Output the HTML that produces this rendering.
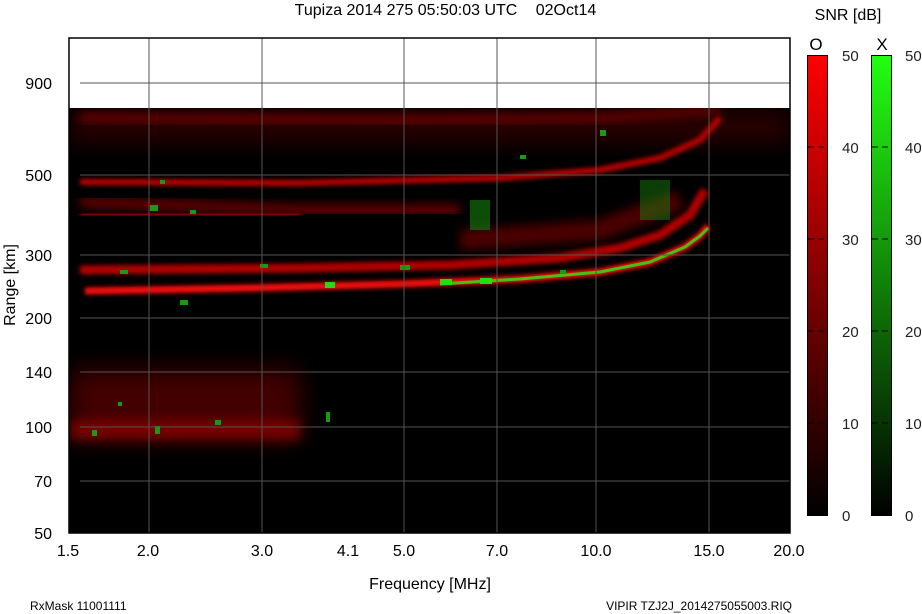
<!DOCTYPE html>
<html><head><meta charset="utf-8"><style>
body{margin:0;background:#fff;width:922px;height:614px;overflow:hidden;font-family:"Liberation Sans",sans-serif}
svg{position:absolute;left:0;top:0}
</style></head><body>
<svg width="922" height="614" viewBox="0 0 922 614" font-family="Liberation Sans, sans-serif">
<defs>
<filter id="b2" x="-10%" y="-50%" width="120%" height="200%"><feGaussianBlur stdDeviation="2"/></filter>
<filter id="b5" x="-10%" y="-50%" width="120%" height="200%"><feGaussianBlur stdDeviation="5"/></filter>
<filter id="b12" x="-20%" y="-50%" width="140%" height="200%"><feGaussianBlur stdDeviation="12"/></filter>
<linearGradient id="gO" x1="0" y1="0" x2="0" y2="1"><stop offset="0" stop-color="#ff0000"/><stop offset="1" stop-color="#000"/></linearGradient>
<linearGradient id="gX" x1="0" y1="0" x2="0" y2="1"><stop offset="0" stop-color="#22ff11"/><stop offset="1" stop-color="#000"/></linearGradient>
<clipPath id="cp"><rect x="69" y="108" width="721" height="425"/></clipPath>
</defs>
<text x="406" y="15" font-size="16" text-anchor="middle">Tupiza 2014 275 05:50:03 UTC</text>
<text x="566" y="15" font-size="16" text-anchor="middle">02Oct14</text>
<rect x="69" y="108" width="721" height="425" fill="#000"/>
<g clip-path="url(#cp)">
<rect x="70" y="370" width="230" height="70" fill="#7a0000" opacity="0.55" filter="url(#b12)"/>
<rect x="70" y="112" width="720" height="30" fill="#5a0000" opacity="0.5" filter="url(#b12)"/>
<path d="M80 118 L400 120 L600 118 L720 110" stroke="#8a0000" stroke-width="6" fill="none" filter="url(#b5)"/>
<path d="M80 202 L300 210 L460 210" stroke="#8a0000" stroke-width="10" fill="none" filter="url(#b5)" opacity="0.8"/>
<path d="M80 182 L300 183 L500 178 L600 170 L660 158 L700 140 L720 118" stroke="#c00000" stroke-width="6" fill="none" filter="url(#b2)"/>
<path d="M80 215 L300 214" stroke="#a00000" stroke-width="6" fill="none" filter="url(#b2)"/>
<path d="M80 270 L300 268 L450 265 L560 258 L620 248 L660 235 L690 215 L705 190" stroke="#b00000" stroke-width="9" fill="none" filter="url(#b2)"/>
<path d="M460 240 L600 230 L680 200" stroke="#800000" stroke-width="20" fill="none" filter="url(#b5)" opacity="0.6"/>
<path d="M85 291 L250 288 L400 284 L520 279 L600 272 L650 262 L685 247 L700 236 L708 226" stroke="#ff0a0a" stroke-width="7" fill="none" filter="url(#b2)"/>
<path d="M440 284 L520 279 L600 272 L650 262 L685 247 L700 236 L708 228" stroke="#22ee11" stroke-width="3" fill="none" opacity="0.8"/>
<rect x="325" y="282" width="10" height="6" fill="#22dd11"/>
<rect x="440" y="279" width="12" height="6" fill="#22dd11"/>
<rect x="480" y="278" width="12" height="6" fill="#22dd11"/>
<rect x="70" y="420" width="230" height="20" fill="#a00000" opacity="0.6" filter="url(#b5)"/>
<g fill="#1a9a10">
<rect x="150" y="205" width="8" height="6"/><rect x="118" y="402" width="4" height="4"/><rect x="92" y="430" width="5" height="6"/><rect x="155" y="426" width="5" height="8"/><rect x="215" y="420" width="6" height="5"/><rect x="326" y="412" width="4" height="10"/>
<rect x="190" y="210" width="6" height="4"/><rect x="180" y="300" width="8" height="5"/><rect x="260" y="264" width="8" height="4"/><rect x="120" y="270" width="8" height="4"/>
<rect x="470" y="200" width="20" height="30" opacity="0.5"/><rect x="640" y="180" width="30" height="40" opacity="0.4"/><rect x="600" y="130" width="6" height="6"/><rect x="520" y="155" width="6" height="4"/>
<rect x="560" y="270" width="6" height="4"/><rect x="400" y="265" width="10" height="5"/><rect x="160" y="180" width="5" height="4"/>
</g>
</g>
<g stroke="#555" stroke-width="1">
<line x1="149" y1="38" x2="149" y2="533"/><line x1="262" y1="38" x2="262" y2="533"/><line x1="404" y1="38" x2="404" y2="533"/><line x1="497" y1="38" x2="497" y2="533"/><line x1="596" y1="38" x2="596" y2="533"/><line x1="709" y1="38" x2="709" y2="533"/>
<line x1="80" y1="83" x2="790" y2="83"/><line x1="80" y1="175" x2="790" y2="175"/><line x1="80" y1="255" x2="790" y2="255"/><line x1="80" y1="318" x2="790" y2="318"/><line x1="80" y1="372" x2="790" y2="372"/><line x1="80" y1="427" x2="790" y2="427"/><line x1="80" y1="481" x2="790" y2="481"/>
</g>
<rect x="69" y="38" width="721" height="495" fill="none" stroke="#000" stroke-width="1.5"/>
<g font-size="16" text-anchor="end">
<text x="52" y="89">900</text><text x="52" y="181">500</text><text x="52" y="261">300</text><text x="52" y="324">200</text><text x="52" y="378">140</text><text x="52" y="433">100</text><text x="52" y="487">70</text><text x="52" y="539">50</text>
</g>
<g font-size="16" text-anchor="middle">
<text x="68" y="556">1.5</text><text x="148" y="556">2.0</text><text x="262" y="556">3.0</text><text x="348" y="556">4.1</text><text x="404" y="556">5.0</text><text x="497" y="556">7.0</text><text x="596" y="556">10.0</text><text x="709" y="556">15.0</text><text x="789" y="556">20.0</text>
</g>
<text x="430" y="589" font-size="16" text-anchor="middle">Frequency [MHz]</text>
<text transform="translate(15,285) rotate(-90)" font-size="16" text-anchor="middle">Range [km]</text>
<text x="30" y="610" font-size="12">RxMask 11001111</text>
<text x="792" y="610" font-size="12" text-anchor="end">VIPIR  TZJ2J_2014275055003.RIQ</text>
<text x="848" y="20" font-size="16" text-anchor="middle">SNR [dB]</text>
<text x="816" y="50" font-size="17" text-anchor="middle">O</text>
<text x="882" y="50" font-size="17" text-anchor="middle">X</text>
<rect x="807.5" y="55.5" width="20" height="460" fill="url(#gO)" stroke="#000"/>
<rect x="871.5" y="55.5" width="20" height="460" fill="url(#gX)" stroke="#000"/>
<g stroke="#000" stroke-dasharray="6,4">
<line x1="808" y1="147" x2="827" y2="147"/><line x1="808" y1="239" x2="827" y2="239"/><line x1="808" y1="331" x2="827" y2="331"/><line x1="808" y1="423" x2="827" y2="423"/>
<line x1="872" y1="147" x2="891" y2="147"/><line x1="872" y1="239" x2="891" y2="239"/><line x1="872" y1="331" x2="891" y2="331"/><line x1="872" y1="423" x2="891" y2="423"/>
</g>
<g font-size="15" fill="#222">
<text x="842" y="61">50</text><text x="842" y="153">40</text><text x="842" y="245">30</text><text x="842" y="337">20</text><text x="842" y="429">10</text><text x="842" y="521">0</text>
<text x="905" y="61">50</text><text x="905" y="153">40</text><text x="905" y="245">30</text><text x="905" y="337">20</text><text x="905" y="429">10</text><text x="905" y="521">0</text>
</g>
</svg>
</body></html>
